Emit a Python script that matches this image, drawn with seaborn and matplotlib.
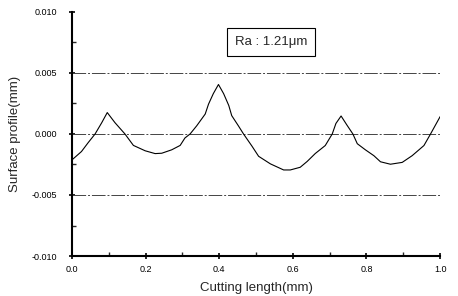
import pandas as pd
import numpy as np
import matplotlib
matplotlib.use("Agg")
import matplotlib.pyplot as plt
from matplotlib.ticker import MultipleLocator
import seaborn as sns

# Surface profile
cutting_length = [0.000, 0.026, 0.044, 0.063, 0.081, 0.096, 0.117, 0.144, 0.167, 0.199,
                  0.226, 0.244, 0.271, 0.294, 0.307, 0.321, 0.339, 0.362, 0.371, 0.384,
                  0.398, 0.412, 0.426, 0.434, 0.452, 0.466, 0.489, 0.507, 0.539, 0.575,
                  0.593, 0.620, 0.639, 0.661, 0.688, 0.707, 0.717, 0.731, 0.747, 0.763,
                  0.775, 0.797, 0.820, 0.838, 0.865, 0.897, 0.924, 0.956, 0.974, 1.000]
profile = [-0.00213, -0.00144, -0.00072, 0.00000, 0.00092, 0.00175, 0.00092, 0.00000, -0.00094, -0.00138,
           -0.00161, -0.00158, -0.00130, -0.00094, -0.00033, 0.00000, 0.00067, 0.00163, 0.00244, 0.00330,
           0.00405, 0.00330, 0.00233, 0.00150, 0.00067, 0.00000, -0.00100, -0.00183, -0.00245, -0.00295,
           -0.00295, -0.00273, -0.00225, -0.00160, -0.00095, 0.00000, 0.00086, 0.00147, 0.00072, 0.00000,
           -0.00080, -0.00130, -0.00178, -0.00228, -0.00248, -0.00233, -0.00178, -0.00095, 0.00000, 0.00142]

ref_lines = [0.005, 0.0, -0.005]
y_ticks = [0.010, 0.005, 0.000, -0.005, -0.010]
x_ticks = [0.0, 0.2, 0.4, 0.6, 0.8, 1.0]
ra_text = "Ra : 1.21\u03bcm"

df = pd.DataFrame({"Cutting length(mm)": cutting_length, "Surface profile(mm)": profile})

sns.set_theme(style="white")
plt.rcParams["font.family"] = ["Liberation Sans", "DejaVu Sans"]

fig = plt.figure(figsize=(4.58, 2.96), dpi=100)
ax = fig.add_axes([0.157, 0.135, 0.804, 0.825])

sns.lineplot(data=df, x="Cutting length(mm)", y="Surface profile(mm)",
             color="black", linewidth=0.8, ax=ax)

# horizontal reference lines
for y in ref_lines:
    ax.axhline(y, color="#444444", linewidth=0.7, linestyle=(0, (14, 2, 2, 2)), zorder=1)

ax.set_xlim(0, 1.0)
ax.set_ylim(-0.010, 0.010)
ax.set_xticks(x_ticks)
ax.set_yticks(y_ticks)
ax.set_xticklabels([f"{v:.1f}" for v in x_ticks])
ax.set_yticklabels([f"{v:.3f}" for v in y_ticks])
ax.xaxis.set_minor_locator(MultipleLocator(0.1))
ax.yaxis.set_minor_locator(MultipleLocator(0.0025))

ax.tick_params(axis="both", which="major", direction="inout", length=5, width=1.2,
               labelsize=6.5, colors="black")
ax.tick_params(axis="y", which="major", pad=8)
ax.tick_params(axis="x", which="major", pad=4)
ax.tick_params(axis="both", which="minor", direction="in", length=3, width=1.0)
ax.tick_params(bottom=True, left=True, which="both")

sns.despine(ax=ax)
for side in ["left", "bottom"]:
    ax.spines[side].set_linewidth(1.5)
    ax.spines[side].set_color("black")

ax.set_xlabel("Cutting length(mm)", fontsize=9.5, labelpad=6)
ax.set_ylabel("Surface profile(mm)", fontsize=9.5, labelpad=8)

ax.text(0.541, 0.0075, ra_text, fontsize=9.5, ha="center", va="center",
        bbox=dict(boxstyle="square,pad=0.6", facecolor="white", edgecolor="black", linewidth=0.8))

fig.savefig("out.png", dpi=100)
